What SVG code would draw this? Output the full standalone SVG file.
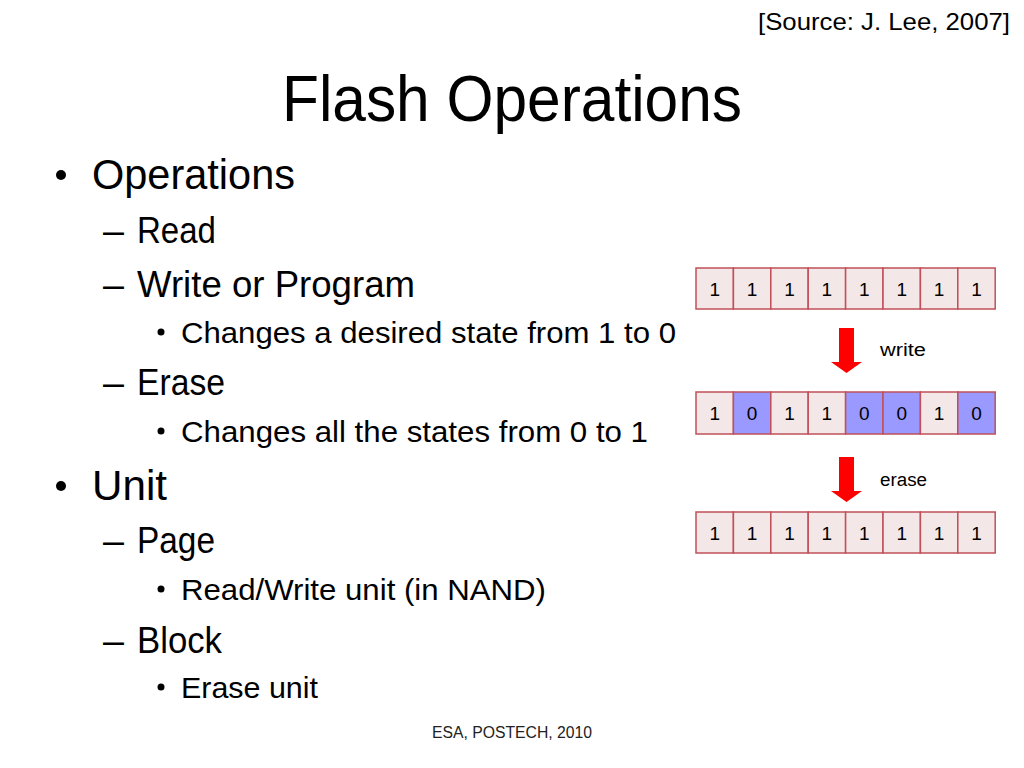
<svg xmlns="http://www.w3.org/2000/svg" width="1024" height="768" viewBox="0 0 1024 768">
<style>
text{font-family:"Liberation Sans",Arial,sans-serif;fill:#000}
.src{font-size:24px}
.title{font-size:64px}
.l1{font-size:43px}
.l2{font-size:36px}
.l3{font-size:30px}
.foot{font-size:16px;fill:#222}
.lbl{font-size:18px}
.dig{font-size:19px;text-anchor:middle}
.c{fill:#F4E7E7;stroke:#C0505A;stroke-width:1.5}
.b{fill:#9999FF;stroke:#C0505A;stroke-width:1.5}
.arr{fill:#FF0000}
</style>
<rect width="1024" height="768" fill="#fff"/>
<g id="source"><text class="src" x="758" y="30" textLength="252" lengthAdjust="spacingAndGlyphs">[Source: J. Lee, 2007]</text></g>
<g id="title"><text class="title" x="282" y="121" textLength="460" lengthAdjust="spacingAndGlyphs">Flash Operations</text></g>
<g id="bullets">
<circle cx="61" cy="175" r="5"/>
<text class="l1" x="92" y="189" textLength="203" lengthAdjust="spacingAndGlyphs">Operations</text>
<text class="l2" x="103" y="243" textLength="21" lengthAdjust="spacingAndGlyphs">–</text>
<text class="l2" x="137" y="243" textLength="79" lengthAdjust="spacingAndGlyphs">Read</text>
<text class="l2" x="103" y="297" textLength="21" lengthAdjust="spacingAndGlyphs">–</text>
<text class="l2" x="137" y="297" textLength="278" lengthAdjust="spacingAndGlyphs">Write or Program</text>
<circle cx="161" cy="332" r="3.5"/>
<text class="l3" x="181" y="343" textLength="495" lengthAdjust="spacingAndGlyphs">Changes a desired state from 1 to 0</text>
<text class="l2" x="103" y="395" textLength="21" lengthAdjust="spacingAndGlyphs">–</text>
<text class="l2" x="137" y="395" textLength="88" lengthAdjust="spacingAndGlyphs">Erase</text>
<circle cx="161" cy="431" r="3.5"/>
<text class="l3" x="181" y="442" textLength="467" lengthAdjust="spacingAndGlyphs">Changes all the states from 0 to 1</text>
<circle cx="61" cy="486" r="5"/>
<text class="l1" x="92" y="500" textLength="75" lengthAdjust="spacingAndGlyphs">Unit</text>
<text class="l2" x="103" y="553" textLength="21" lengthAdjust="spacingAndGlyphs">–</text>
<text class="l2" x="137" y="553" textLength="78" lengthAdjust="spacingAndGlyphs">Page</text>
<circle cx="161" cy="589" r="3.5"/>
<text class="l3" x="181" y="600" textLength="365" lengthAdjust="spacingAndGlyphs">Read/Write unit (in NAND)</text>
<text class="l2" x="103" y="653" textLength="21" lengthAdjust="spacingAndGlyphs">–</text>
<text class="l2" x="137" y="653" textLength="85" lengthAdjust="spacingAndGlyphs">Block</text>
<circle cx="161" cy="687" r="3.5"/>
<text class="l3" x="181" y="698" textLength="137" lengthAdjust="spacingAndGlyphs">Erase unit</text>
</g>
<g id="row1">
<rect class="c" x="696" y="268" width="37.4" height="41"/>
<rect class="c" x="733.4" y="268" width="37.4" height="41"/>
<rect class="c" x="770.8" y="268" width="37.4" height="41"/>
<rect class="c" x="808.2" y="268" width="37.4" height="41"/>
<rect class="c" x="845.6" y="268" width="37.4" height="41"/>
<rect class="c" x="883" y="268" width="37.4" height="41"/>
<rect class="c" x="920.4" y="268" width="37.4" height="41"/>
<rect class="c" x="957.8" y="268" width="37.4" height="41"/>
<text class="dig" x="714.7" y="296">1</text>
<text class="dig" x="752.1" y="296">1</text>
<text class="dig" x="789.5" y="296">1</text>
<text class="dig" x="826.9" y="296">1</text>
<text class="dig" x="864.3" y="296">1</text>
<text class="dig" x="901.7" y="296">1</text>
<text class="dig" x="939.1" y="296">1</text>
<text class="dig" x="976.5" y="296">1</text>
</g>
<g id="row2">
<rect class="c" x="696" y="392" width="37.4" height="42"/>
<rect class="b" x="733.4" y="392" width="37.4" height="42"/>
<rect class="c" x="770.8" y="392" width="37.4" height="42"/>
<rect class="c" x="808.2" y="392" width="37.4" height="42"/>
<rect class="b" x="845.6" y="392" width="37.4" height="42"/>
<rect class="b" x="883" y="392" width="37.4" height="42"/>
<rect class="c" x="920.4" y="392" width="37.4" height="42"/>
<rect class="b" x="957.8" y="392" width="37.4" height="42"/>
<text class="dig" x="714.7" y="420">1</text>
<text class="dig" x="752.1" y="420">0</text>
<text class="dig" x="789.5" y="420">1</text>
<text class="dig" x="826.9" y="420">1</text>
<text class="dig" x="864.3" y="420">0</text>
<text class="dig" x="901.7" y="420">0</text>
<text class="dig" x="939.1" y="420">1</text>
<text class="dig" x="976.5" y="420">0</text>
</g>
<g id="row3">
<rect class="c" x="696" y="512" width="37.4" height="41"/>
<rect class="c" x="733.4" y="512" width="37.4" height="41"/>
<rect class="c" x="770.8" y="512" width="37.4" height="41"/>
<rect class="c" x="808.2" y="512" width="37.4" height="41"/>
<rect class="c" x="845.6" y="512" width="37.4" height="41"/>
<rect class="c" x="883" y="512" width="37.4" height="41"/>
<rect class="c" x="920.4" y="512" width="37.4" height="41"/>
<rect class="c" x="957.8" y="512" width="37.4" height="41"/>
<text class="dig" x="714.7" y="540">1</text>
<text class="dig" x="752.1" y="540">1</text>
<text class="dig" x="789.5" y="540">1</text>
<text class="dig" x="826.9" y="540">1</text>
<text class="dig" x="864.3" y="540">1</text>
<text class="dig" x="901.7" y="540">1</text>
<text class="dig" x="939.1" y="540">1</text>
<text class="dig" x="976.5" y="540">1</text>
</g>
<g id="connectors">
<polygon class="arr" points="839,328 854,328 854,362 862,362 846.5,373 831,362 839,362"/>
<polygon class="arr" points="839,457 854,457 854,491 862,491 846.5,502 831,491 839,491"/>
</g>
<g id="label-write"><text class="lbl" x="880" y="356" textLength="46" lengthAdjust="spacingAndGlyphs">write</text></g>
<g id="label-erase"><text class="lbl" x="880" y="486" textLength="47" lengthAdjust="spacingAndGlyphs">erase</text></g>
<g id="footer"><text class="foot" x="432" y="738" textLength="160" lengthAdjust="spacingAndGlyphs">ESA, POSTECH, 2010</text></g>
</svg>
